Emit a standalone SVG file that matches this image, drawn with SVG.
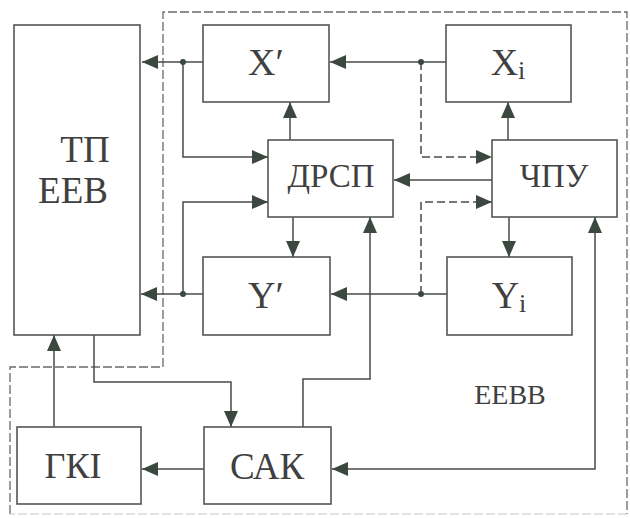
<svg xmlns="http://www.w3.org/2000/svg" width="630" height="518" viewBox="0 0 630 518">
<defs>
<marker id="ah" markerUnits="userSpaceOnUse" markerWidth="16" markerHeight="14" refX="16" refY="7" orient="auto-start-reverse">
<path d="M0,0 L16,7 L0,14 Z" fill="#3b4840"/>
</marker>
<style>
.box{fill:none;stroke:#555;stroke-width:1.6}
.ln{fill:none;stroke:#4a4a4a;stroke-width:1.5}
.dl{fill:none;stroke:#4a4a4a;stroke-width:1.5;stroke-dasharray:8 4}
.bd{fill:none;stroke:#6a6a6a;stroke-width:1.3;stroke-dasharray:9 3}
.bf{fill:none;stroke:#c8c8c8;stroke-width:1.2;stroke-dasharray:9 3}
.t{fill:#404040;text-anchor:middle}
.dot{fill:#3b4840}
</style>
</defs>
<rect width="630" height="518" fill="#ffffff"/>
<path class="bd" d="M10,514 L10,367 L163,367 L163,12 L627,12 L627,514"/>
<path class="bf" d="M627,514 L10,514"/>
<g id="connectors">
<path class="ln" d="M203,62 L142,62" marker-end="url(#ah)"/>
<path class="ln" d="M183,62 L183,157 L268,157" marker-end="url(#ah)"/>
<path class="ln" d="M290,140 L290,102" marker-end="url(#ah)"/>
<path class="ln" d="M183,294 L183,202 L268,202" marker-end="url(#ah)"/>
<path class="ln" d="M203,294 L141,294" marker-end="url(#ah)"/>
<path class="ln" d="M293,217 L293,257" marker-end="url(#ah)"/>
<path class="ln" d="M446,62 L330,62" marker-end="url(#ah)"/>
<path class="dl" d="M421,62 L421,157 L492,157" marker-end="url(#ah)"/>
<path class="ln" d="M492,180 L394,180" marker-end="url(#ah)"/>
<path class="dl" d="M421,294 L421,202 L492,202" marker-end="url(#ah)"/>
<path class="ln" d="M508,140 L508,102" marker-end="url(#ah)"/>
<path class="ln" d="M509,217 L509,257" marker-end="url(#ah)"/>
<path class="ln" d="M447,294 L331,294" marker-end="url(#ah)"/>
<path class="ln" d="M94,335 L94,382 L231,382 L231,427" marker-end="url(#ah)"/>
<path class="ln" d="M54,427 L54,335" marker-end="url(#ah)"/>
<path class="ln" d="M204,469 L142,469" marker-end="url(#ah)"/>
<path class="ln" d="M303,427 L303,379 L370,379 L370,217" marker-end="url(#ah)"/>
<path class="ln" d="M595,217 L595,469 L332,469" marker-start="url(#ah)" marker-end="url(#ah)"/>
<circle class="dot" cx="183" cy="62" r="3"/>
<circle class="dot" cx="421" cy="62" r="3"/>
<circle class="dot" cx="183" cy="294" r="3"/>
<circle class="dot" cx="421" cy="294" r="3"/>
</g>
<g font-family="Liberation Serif, DejaVu Serif, Times New Roman, serif">
<g id="tp">
<rect class="box" x="14" y="25" width="126" height="310"/>
<text class="t" x="85" y="162" font-size="37">ТП</text>
<text class="t" x="73" y="203" font-size="37">ЕЕВ</text>
</g>
<g id="xprime">
<rect class="box" x="203" y="25" width="126" height="77"/>
<text class="t" x="266" y="75" font-size="38">X′</text>
</g>
<g id="xi">
<rect class="box" x="446" y="25" width="125" height="77"/>
<text class="t" x="508" y="75" font-size="38">X<tspan font-size="26" dy="4">i</tspan></text>
</g>
<g id="drsp">
<rect class="box" x="268" y="140" width="125" height="77"/>
<text class="t" x="331" y="187" font-size="33">ДРСП</text>
</g>
<g id="chpu">
<rect class="box" x="492" y="140" width="125" height="77"/>
<text class="t" x="554" y="187" font-size="33">ЧПУ</text>
</g>
<g id="yprime">
<rect class="box" x="203" y="257" width="127" height="78"/>
<text class="t" x="266" y="308" font-size="38">Y′</text>
</g>
<g id="yi">
<rect class="box" x="447" y="257" width="125" height="78"/>
<text class="t" x="509" y="308" font-size="38">Y<tspan font-size="26" dy="4">i</tspan></text>
</g>
<g id="gki">
<rect class="box" x="17" y="427" width="124" height="77"/>
<text class="t" x="73" y="478" font-size="36">ГКІ</text>
</g>
<g id="sak">
<rect class="box" x="204" y="427" width="127" height="77"/>
<text class="t" x="267" y="479" font-size="37">САК</text>
</g>
<g id="eevv">
<text class="t" x="510" y="404" font-size="28">ЕЕВВ</text>
</g>
</g>
</svg>
